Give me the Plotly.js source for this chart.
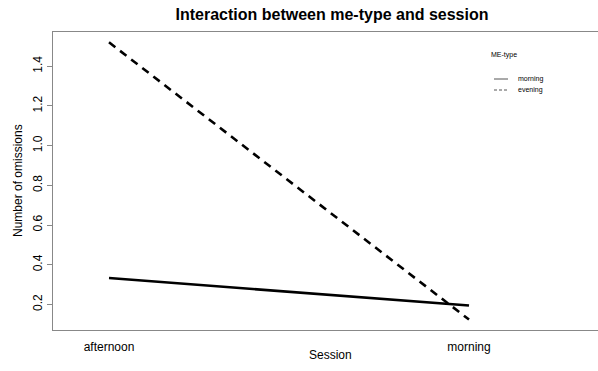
<!DOCTYPE html>
<html>
<head>
<meta charset="utf-8">
<script src="https://cdn.plot.ly/plotly-3.0.1.min.js"></script>
<style>html,body{margin:0;padding:0;background:#fff;}#chart{width:598px;height:371px;}</style>
</head>
<body>
<div id="chart"></div>
<script>
// Data
const sessions = ["afternoon", "morning"];
const meTypes = ["morning", "evening"];
const morningValues = [0.333, 0.195];
const eveningValues = [1.52, 0.124];
const yTicks = [0.2, 0.4, 0.6, 0.8, 1.0, 1.2, 1.4];
const yTickLabels = ["0.2", "0.4", "0.6", "0.8", "1.0", "1.2", "1.4"];

const xPos = sessions.map((s, i) => i + 1);
const FONT = "Liberation Sans, Arial, Helvetica, sans-serif";

const traces = [
  {x: xPos, y: morningValues, name: meTypes[0], mode: "lines", type: "scatter",
   line: {color: "#000", width: 2.6, dash: "solid"}, showlegend: false, hoverinfo: "skip"},
  {x: xPos, y: eveningValues, name: meTypes[1], mode: "lines", type: "scatter",
   line: {color: "#000", width: 2.6, dash: "8px,6px"}, showlegend: false, hoverinfo: "skip"}
];

// Custom R-style legend (paper coordinates)
const legX0 = (494 - 53) / 545, legX1 = (508 - 53) / 545, legTx = (516 - 53) / 545;
const yPix = p => 1 - (p - 32) / 298;
const legRows = [79, 90];
const dashes = ["solid", "3px,2px"];
const shapes = meTypes.map((m, i) => ({
  type: "line", xref: "paper", yref: "paper", x0: legX0, x1: legX1,
  y0: yPix(legRows[i]), y1: yPix(legRows[i]), line: {color: "#555", width: 1, dash: dashes[i]}
}));
const annotations = meTypes.map((m, i) => ({
  text: m, xref: "paper", yref: "paper", x: legTx, y: yPix(legRows[i]),
  xanchor: "left", yanchor: "middle", showarrow: false, font: {family: FONT, size: 7, color: "#000"}
}));
annotations.push({text: "ME-type", xref: "paper", yref: "paper", x: (489 - 53) / 545, y: yPix(55),
  xanchor: "left", yanchor: "middle", showarrow: false, font: {family: FONT, size: 7, color: "#000"}});
annotations.push({text: "Session", xref: "paper", yref: "paper", x: (330 - 53) / 545, y: yPix(355),
  xanchor: "center", yanchor: "middle", showarrow: false, font: {family: FONT, size: 12, color: "#000"}});
annotations.push({text: "Number of omissions", xref: "paper", yref: "paper", x: (18 - 53) / 545, y: yPix(181),
  xanchor: "center", yanchor: "middle", textangle: -90, showarrow: false, font: {family: FONT, size: 12, color: "#000"}});

const layout = {
  width: 598, height: 371,
  margin: {l: 53, r: 0, t: 32, b: 41},
  paper_bgcolor: "#fff", plot_bgcolor: "#fff",
  font: {family: FONT, size: 12, color: "#000"},
  title: {text: "<b>Interaction between me-type and session</b>", x: 332 / 598, xanchor: "center",
          xref: "container", y: 1 - 14 / 371, yanchor: "middle", yref: "container",
          font: {family: FONT, size: 16, color: "#000"}},
  xaxis: {range: [1 - 56 / 360, 2 + 129 / 360], tickvals: xPos, ticktext: sessions,
          showgrid: false, zeroline: false, showline: true, mirror: true, linecolor: "#888", linewidth: 1,
          ticks: "", ticklabelstandoff: 6, tickfont: {family: FONT, size: 12, color: "#000"}, fixedrange: true},
  yaxis: {range: [0.0715, 1.572], tickvals: yTicks, ticktext: yTickLabels, tickangle: -90,
          showgrid: false, zeroline: false, showline: true, mirror: true, linecolor: "#888", linewidth: 1,
          ticks: "outside", ticklen: 5, tickcolor: "#888", tickwidth: 1,
          tickfont: {family: FONT, size: 12, color: "#000"}, fixedrange: true},
  shapes: shapes,
  annotations: annotations,
  showlegend: false
};

Plotly.newPlot("chart", traces, layout, {displayModeBar: false, staticPlot: true});
</script>
</body>
</html>
